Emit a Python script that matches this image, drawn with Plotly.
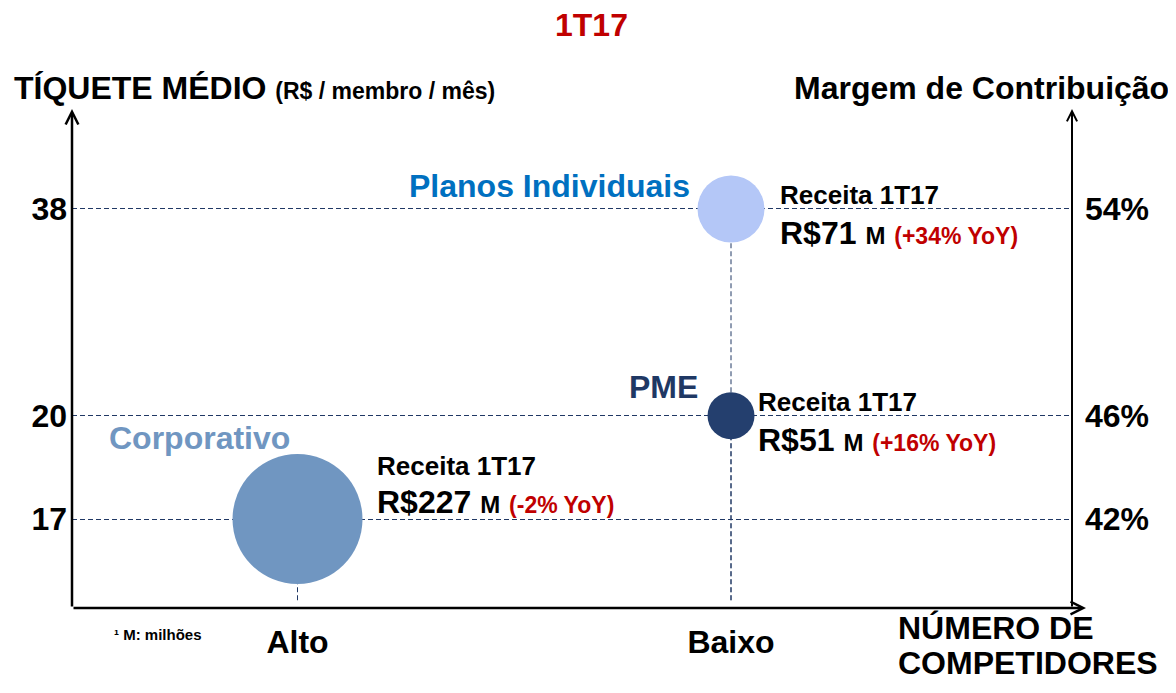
"""
    Tíquete médio x número de competidores, 1T17
"""

import plotly.graph_objs as go

# data
segments = ["Planos Individuais", "PME", "Corporativo"]
competitors = ["Baixo", "Baixo", "Alto"]
ticket = [38, 20, 17]            # R$ / membro / mês
margin = [54, 46, 42]            # margem de contribuição (%)
revenue = [71, 51, 227]          # receita 1T17, R$ M
yoy = ["+34%", "+16%", "-2%"]
x_categories = ["Alto", "Baixo"]

# styles
FONT = "Liberation Sans, Arial, sans-serif"
RED = "#c00000"
NAVY = "#203864"
DASH = "5px,3px"
bubble_colors = ["#b4c7f7", "#243f6e", "#7096c1"]
bubble_sizes = [67, 47, 130]
name_colors = ["#0070c0", "#1f3864", "#7096c1"]
# (xanchor, xshift, yshift) of segment name, (xshift, yshift line1, yshift line2) of revenue label
name_pos = [("right", -39, 23), ("right", -31, 29), ("left", -191, 81)]
rev_pos = [(47, 14, -24), (25, 14, -24), (77, 53, 17)]

Y_RANGE = [38.556, 57.831]
X_RANGE = [-0.5202, 1.7866]

# the page body adds 8px around the figure
OFF = 8
W, H = 1176 - 2 * OFF, 693 - 2 * OFF
L, R, T, B = 72 - OFF, 1176 - 1072 - OFF, 110 - OFF, 693 - 608 - OFF


def px(x):
    """ page pixel x -> paper """
    return (x - OFF - L) / (W - L - R)


def py(y):
    """ page pixel y -> paper """
    return (H - B - (y - OFF)) / (H - T - B)


def bold(text, size=None, color=None):
    style = []
    if size:
        style.append(f"font-size:{size}px")
    if color:
        style.append(f"color:{color}")
    return f"<span style='{';'.join(style)}'><b>{text}</b></span>"


data = [
    go.Scatter(
        x=competitors, y=margin, mode="markers", text=segments,
        marker={"size": bubble_sizes, "color": bubble_colors, "opacity": 1,
                "line": {"width": 0}},
        hovertemplate="%{text}<extra></extra>", showlegend=False
    ),
    # invisible trace to activate the right axis
    go.Scatter(x=competitors, y=margin, yaxis="y2", mode="markers",
               marker={"opacity": 0}, showlegend=False, hoverinfo="skip"),
]

shapes = []
for comp, m in zip(competitors, margin):
    shapes.append(dict(
        type="line", xref="x", yref="y", x0=comp, x1=comp,
        y0=Y_RANGE[0] + 0.3, y1=m, layer="below",
        line={"color": NAVY, "width": 1, "dash": DASH}
    ))

annotations = [
    dict(text=bold("1T17", color=RED), x=px(591), y=py(25), font={"size": 32}),
    dict(text=bold("TÍQUETE MÉDIO") + " " + bold("(R$ / membro / mês)", size=23),
         x=px(12), y=py(88), xanchor="left", font={"size": 32}),
    dict(text=bold("Margem de Contribuição"), x=px(1171), y=py(88), xanchor="right",
         font={"size": 32}),
    dict(text=bold("NÚMERO DE"), x=px(896), y=py(628), xanchor="left", font={"size": 32}),
    dict(text=bold("COMPETIDORES"), x=px(896), y=py(663), xanchor="left",
         font={"size": 32}),
    dict(text=bold("¹ M: milhões"), x=px(112), y=py(634), xanchor="left",
         font={"size": 15}),
    # axis arrows
    dict(text="", x=0, y=py(109), ax=0, ay=608 - 109, showarrow=True,
         arrowhead=5, arrowwidth=2.5, arrowsize=1, arrowcolor="black"),
    dict(text="", x=1, y=py(109), ax=0, ay=608 - 109, showarrow=True,
         arrowhead=5, arrowwidth=2, arrowsize=1, arrowcolor="black"),
    dict(text="", x=px(1086), y=0, ax=-(1086 - 72), ay=0, showarrow=True,
         arrowhead=5, arrowwidth=2.5, arrowsize=1, arrowcolor="black"),
]

for i, seg in enumerate(segments):
    anchor, xs, ys = name_pos[i]
    annotations.append(dict(
        text=bold(seg, color=name_colors[i]), xref="x", yref="y",
        x=competitors[i], y=margin[i], xanchor=anchor, xshift=xs, yshift=ys,
        font={"size": 32}
    ))
    rx, ry1, ry2 = rev_pos[i]
    annotations.append(dict(
        text=bold("Receita 1T17"), xref="x", yref="y", x=competitors[i], y=margin[i],
        xanchor="left", xshift=rx, yshift=ry1, font={"size": 26}
    ))
    annotations.append(dict(
        text=bold(f"R${revenue[i]}") + " " + bold("M", size=24) + " "
        + bold(f"({yoy[i]} YoY)", size=23, color=RED),
        xref="x", yref="y", x=competitors[i], y=margin[i],
        xanchor="left", xshift=rx, yshift=ry2, font={"size": 32}
    ))

for a in annotations:
    a.setdefault("xref", "paper")
    a.setdefault("yref", "paper")
    a.setdefault("xanchor", "center")
    a.setdefault("yanchor", "middle")
    a.setdefault("showarrow", False)
    a["font"] = {"family": FONT, "color": "black", **a.get("font", {})}

layout = go.Layout(
    width=W, height=H,
    margin={"l": L, "r": R, "t": T, "b": B, "pad": 0, "autoexpand": False},
    paper_bgcolor="white", plot_bgcolor="white",
    font={"family": FONT, "color": "black"},
    xaxis={
        "type": "category", "categoryorder": "array", "categoryarray": x_categories,
        "range": X_RANGE, "showgrid": False, "zeroline": False, "showline": False,
        "ticks": "", "ticklabelstandoff": 12, "automargin": False,
        "tickfont": {"size": 32, "family": FONT}, "tickprefix": "<b>",
        "ticksuffix": "</b>", "fixedrange": True
    },
    yaxis={
        "range": Y_RANGE, "tickmode": "array", "tickvals": margin,
        "ticktext": [f"<b>{t}</b>" for t in ticket], "automargin": False,
        "tickfont": {"size": 32, "family": FONT}, "ticks": "", "ticklabelstandoff": 4,
        "showgrid": True, "griddash": DASH, "gridcolor": NAVY, "gridwidth": 1,
        "zeroline": False, "showline": False, "fixedrange": True
    },
    yaxis2={
        "range": Y_RANGE, "overlaying": "y", "side": "right", "tickmode": "array",
        "tickvals": margin, "ticktext": [f"<b>{m}%</b>" for m in margin],
        "automargin": False,
        "tickfont": {"size": 32, "family": FONT}, "ticks": "", "ticklabelstandoff": 12,
        "showgrid": False, "zeroline": False, "showline": False, "fixedrange": True
    },
    shapes=shapes,
    annotations=annotations,
    hovermode="closest",
)

fig = go.Figure(data=data, layout=layout)
fig.write_html("out.html")
